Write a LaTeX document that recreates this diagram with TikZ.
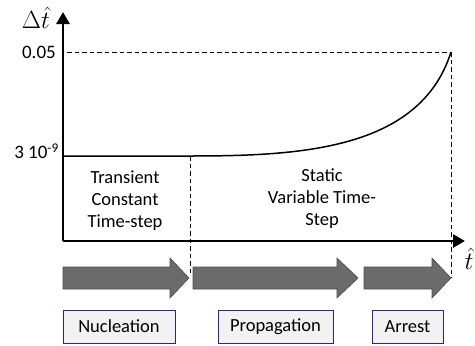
\documentclass[tikz,border=0pt]{standalone}
\usepackage{fontspec}
\setmainfont{Carlito}
\usetikzlibrary{arrows.meta,shapes.arrows}
\begin{document}
\begin{tikzpicture}[x=1pt,y=-1pt,
  axis/.style={line width=2.8pt,-{Triangle[length=12pt,width=13pt]}},
  guide/.style={dash pattern=on 4.5pt off 3pt,line width=1pt},
  curve/.style={line width=1.5pt},
  phase/.style={fill=black!58,draw=black!70,line width=0.6pt},
  label/.style={draw=blue!45!black!85,line width=1pt,fill=black!5,minimum height=33pt,inner sep=0pt,font=\fontsize{18.5}{20}\selectfont},
  txt/.style={align=center,font=\fontsize{18.5}{22}\selectfont}]
\useasboundingbox (0,0) rectangle (475,346);
% coordinates
\coordinate (O) at (63,241);
\coordinate (ytop) at (63,12);
\coordinate (xend) at (465,241);
\coordinate (top) at (451,52);
\coordinate (yhi) at (67,52);
\coordinate (ylo) at (63,156);
\coordinate (bend) at (190,156);
\coordinate (vb) at (190,276);
\coordinate (ve) at (451,278);
% dashed guides
\draw[guide] (yhi) -- (top);
\draw[guide] (top) -- (ve);
\draw[guide] (bend) -- (vb);
% curve
\draw[curve] (ylo) -- (bend) .. controls (300,156) and (420,150) .. (top);
% axes
\draw[axis] (O) -- (ytop);
\draw[axis] (O) -- (xend);
% axis labels
\node[inner sep=0pt] (ylab) at (36,18) {\fontsize{24}{26}\selectfont$\Delta\hat{t}$};
\node[inner sep=0pt] (xlab) at (469,259) {\fontsize{24}{26}\selectfont$\hat{t}$};
\node[anchor=east,inner sep=1pt,font=\fontsize{19}{21}\selectfont] (l1) at (57,52) {0.05};
\node[anchor=east,inner sep=1pt,font=\fontsize{19}{21}\selectfont] (l2) at (60,151) {3 10\textsuperscript{-9}};
% region texts
\node[txt] (t1) at (125,201) {Transient\\Constant\\Time-step};
\node[txt] (t2) at (322,199) {Static\\Variable Time-\\Step};
% phase arrows
\draw[phase] (63,267) -- (170,267) -- (170,258) -- (189,278) -- (170,298) -- (170,289) -- (63,289) -- cycle;
\draw[phase] (193,267) -- (337,267) -- (337,258) -- (358,278) -- (337,298) -- (337,289) -- (193,289) -- cycle;
\draw[phase] (364,267) -- (432,267) -- (432,258) -- (451,278) -- (432,298) -- (432,289) -- (364,289) -- cycle;
% phase labels
\node[label,minimum width=112pt] (n1) at (119,326.5) {Nucleation};
\node[label,minimum width=115pt] (n2) at (275.5,326.5) {Propagation};
\node[label,minimum width=71pt] (n3) at (407.5,326.5) {Arrest};
\end{tikzpicture}
\end{document}
